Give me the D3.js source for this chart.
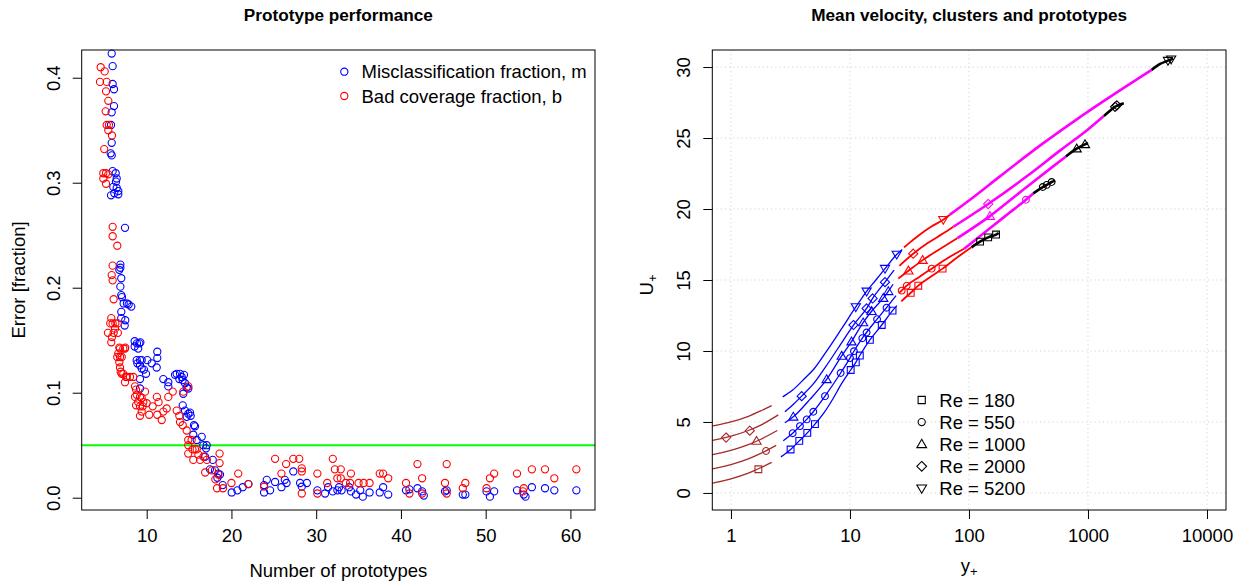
<!DOCTYPE html>
<html>
<head>
<meta charset="utf-8">
<script src="https://cdn.jsdelivr.net/npm/d3@7"></script>
<style>
  body { margin: 0; background: #fff; }
  svg { display: block; font-family: "Liberation Sans", Arial, Helvetica, sans-serif; }
</style>
</head>
<body>
<svg id="chart" width="1241" height="586"></svg>
<script>
// ---- left panel: [number of prototypes, fraction] ----
const misclassPts = [
  [5.87,0.423],[5.98,0.411],[5.98,0.394],[6.14,0.389],[6.14,0.373],[5.87,0.367],[5.79,0.355],[5.87,0.338],
  [5.75,0.328],[5.87,0.326],[5.98,0.311],[6.34,0.309],[6.46,0.304],[6.38,0.301],[6.06,0.296],[6.46,0.295],
  [5.79,0.288],[6.18,0.290],[6.65,0.289],[6.65,0.292],[7.44,0.257],
  [6.89,0.222],[6.89,0.219],[6.77,0.217],[7.0,0.209],[6.89,0.201],[7.0,0.193],[7.08,0.191],[7.28,0.185],
  [7.67,0.185],[7.87,0.184],[8.18,0.182],[7.0,0.177],[7.0,0.171],[7.47,0.169],[7.4,0.164],[8.58,0.149],
  [8.85,0.147],[9.25,0.148],[8.58,0.144],[9.0,0.142],[9.13,0.147],
  [8.82,0.131],[9.21,0.131],[9.41,0.131],[8.9,0.128],[9.21,0.126],[9.41,0.123],[9.68,0.122],[9.92,0.118],
  [10.07,0.131],[10.59,0.128],[11.25,0.139],[11.25,0.133],[11.18,0.124],[9.21,0.113],[9.21,0.104],
  [11.96,0.113],[12.55,0.110],[12.55,0.106],
  [13.34,0.117],[13.54,0.118],[13.93,0.118],[14.13,0.115],[14.4,0.117],[13.85,0.113],[14.25,0.112],
  [14.52,0.109],[14.72,0.105],[14.91,0.104],[14.32,0.099],[14.25,0.088],[14.52,0.083],[14.91,0.080],
  [15.19,0.078],[14.72,0.077],[15.11,0.081],[15.58,0.069],[15.7,0.068],[15.5,0.060],[16.49,0.058],
  [15.9,0.055],[16.68,0.050],[17.08,0.050],[17.0,0.047],[16.88,0.039],[17.79,0.036],[17.47,0.027],
  [18.06,0.026],[18.45,0.023],[18.65,0.022],[18.34,0.019],[18.97,0.012],[20.03,0.005],[20.7,0.007],
  [21.33,0.010],[22.0,0.013],[23.85,0.012],[23.85,0.005],[24.17,0.017],[24.56,0.007],[25.15,0.015],
  [27.3,0.025],[26.3,0.017],[26.5,0.014],[25.9,0.010],[28.1,0.014],[28.3,0.0105],[28.9,0.014],[30.14,0.007],
  [31.05,0.004],[31.96,0.006],[32.7,0.010],[33.0,0.007],[33.9,0.010],[34.1,0.006],[34.7,0.003],[35.5,0.001],
  [36.3,0.005],[37.5,0.005],[37.9,0.010],[38.5,0.003],[40.6,0.007],[41.0,0.008],[41.95,0.009],[42.5,0.006],
  [42.7,0.002],[45.2,0.006],[45.4,0.007],[47.3,0.003],[47.6,0.003],[50.1,0.006],[50.5,0.001],[51.0,0.006],
  [53.7,0.007],[54.5,0.003],[54.7,0.001],[55.45,0.010],[57.0,0.009],[58.1,0.007],[60.7,0.007],[31.4,0.010],
  [32.5,0.007],[35.2,0.007]
];
const coveragePts = [
  [4.57,0.410],[5.04,0.406],[4.49,0.396],[5.28,0.396],[5.2,0.387],[5.47,0.378],[5.16,0.368],[5.28,0.355],
  [5.55,0.355],[5.47,0.350],[5.9,0.345],[4.99,0.332],[4.88,0.309],[5.2,0.309],[5.47,0.308],[4.88,0.304],
  [5.2,0.299],[5.98,0.258],[5.98,0.249],[6.53,0.240],[5.98,0.221],[5.87,0.212],[5.98,0.207],
  [6.1,0.189],[5.82,0.171],[5.7,0.166],[5.98,0.166],[6.3,0.166],[6.6,0.166],[5.43,0.157],[6.26,0.161],
  [6.1,0.157],[6.6,0.157],[5.9,0.153],[5.82,0.148],[6.77,0.143],[7.47,0.143],
  [6.85,0.142],[7.24,0.142],[7.44,0.142],[6.65,0.1375],[6.53,0.134],[6.85,0.134],[7.05,0.134],[6.77,0.129],
  [6.85,0.124],[6.93,0.120],[7.05,0.118],[7.24,0.118],[7.64,0.115],[8.03,0.115],[8.42,0.115],[7.44,0.110],
  [7.56,0.115],
  [8.62,0.106],[8.74,0.103],[8.82,0.098],[8.62,0.096],[9.21,0.096],[9.0,0.091],[9.41,0.095],[9.6,0.091],
  [9.8,0.101],[10.0,0.090],[8.74,0.088],[9.21,0.087],[9.53,0.087],[9.41,0.082],[9.21,0.078],[10.3,0.079],
  [10.7,0.087],[11.2,0.096],[11.4,0.091],[11.25,0.079],[11.77,0.074],[11.96,0.082],[12.36,0.085],
  [12.55,0.096],[13.07,0.101],[13.54,0.083],[13.85,0.078],[13.93,0.072],[14.25,0.069],[14.72,0.064],
  [14.91,0.106],[14.32,0.101],
  [14.9,0.055],[14.9,0.050],[15.3,0.055],[15.4,0.046],[15.7,0.046],[15.9,0.046],[14.9,0.042],[15.5,0.036],
  [16.3,0.036],[16.1,0.041],[16.7,0.039],[17.1,0.036],[18.6,0.042],[16.9,0.024],[17.7,0.026],[18.1,0.0175],
  [18.45,0.022],[18.3,0.009],[19.0,0.009],[18.6,0.033],[20.0,0.014],[20.8,0.023],[22.0,0.013],[23.85,0.0105],
  [25.15,0.037],[25.9,0.023],
  [26.45,0.032],[27.3,0.037],[28.0,0.037],[28.3,0.028],[28.3,0.025],[30.14,0.023],[31.96,0.037],[32.2,0.027],
  [32.9,0.027],[32.5,0.0185],[32.9,0.0185],[34.1,0.023],[31.3,0.014],[33.5,0.014],[34.0,0.014],[35.0,0.014],
  [35.6,0.014],[36.3,0.014],[37.5,0.023],[37.9,0.023],[38.5,0.0185],[40.6,0.014],[41.95,0.032],[42.5,0.0185],
  [45.4,0.032],[45.2,0.014],[47.6,0.014],[47.3,0.009],[50.1,0.009],[50.5,0.0185],[51.0,0.023],[53.7,0.023],
  [54.5,0.009],[55.45,0.027],[57.0,0.027],[58.1,0.0185],[60.7,0.027],[54.4,0.006],[42.5,0.004],[41.0,0.004],
  [45.4,0.004],[30.14,0.004],[28.3,0.004]
];
const targetError = 0.05;
const xTicksLeft = [10, 20, 30, 40, 50, 60];
const yTicksLeft = [0, 0.1, 0.2, 0.3, 0.4];
const leftLegend = ['Misclassification fraction, m', 'Bad coverage fraction, b'];

// ---- right panel: one entry per Reynolds number, points are [y+, U+] ----
const reLabels = ['Re = 180', 'Re = 550', 'Re = 1000', 'Re = 2000', 'Re = 5200'];
const viscousCurves = [
  [[0.5,0.5],[0.7,0.7],[1,1.0],[1.4,1.4],[1.8,1.8],[2.2,2.15]],
  [[0.5,1.5],[0.7,1.7],[1,2.0],[1.4,2.4],[1.8,2.8],[2.4,3.35]],
  [[0.5,2.5],[0.7,2.7],[1,3.0],[1.4,3.4],[1.8,3.8],[2.45,4.4]],
  [[0.5,3.5],[0.7,3.7],[1,4.0],[1.4,4.4],[1.8,4.8],[2.5,5.5]],
  [[0.5,4.5],[0.7,4.72],[1,5.0],[1.4,5.4],[1.8,5.8],[2.2,6.15]]
];
const bufferCurves = [
  [[2.63,2.54],[3.17,3.06],[3.75,3.67],[4.38,4.23],[5.08,4.85],[6,5.6],[7.16,6.6],[8.5,7.7],[10.14,8.66],
   [11.2,9.2],[12.1,9.68],[14.7,10.78],[18.5,11.83],[22.8,12.84],[24.8,13.2]],
  [[2.75,3.68],[3.3,4.21],[3.8,4.71],[4.33,5.18],[4.92,5.72],[6.17,6.82],[8.35,8.45],[10.0,9.5],[10.8,9.98],
   [12.7,10.9],[14.5,11.55],[16.9,12.24],[20.6,13.12],[24.4,13.9]],
  [[2.84,4.94],[3.34,5.36],[4.61,6.59],[6.37,8.0],[8.52,9.65],[10.3,10.66],[12.9,12.0],[15.2,12.8],
   [19.05,13.72],[21.0,14.2],[23.0,14.7]],
  [[2.84,5.72],[3.3,6.2],[3.93,6.82],[5,7.75],[6.2,8.85],[8.4,10.5],[10.7,11.83],[13.8,13.0],[15.5,13.7],
   [19.7,14.85],[23.5,15.7]],
  [[2.72,6.77],[3.3,7.25],[4.2,8.1],[5,8.75],[6.2,9.85],[8.4,11.5],[11.2,13.1],[13.8,14.2],[16.5,15.0],
   [19.7,15.8],[24.7,16.8],[27.5,17.15]]
];
const logCurves = [
  [[27,13.5],[32.4,14.1],[37.5,14.6],[48,15.25],[60,15.8],[80,16.6],[105,17.3]],
  [[26,14.1],[27.2,14.25],[30,14.6],[38,15.2],[48.6,15.8],[65,16.5],[91,17.2]],
  [[25.5,15.1],[31,15.65],[40.8,16.4],[55,17.1],[80,17.95]],
  [[26,16.0],[34,16.85],[45,17.6],[60,18.25],[74,18.75]],
  [[28.5,17.3],[32,17.65],[38.7,18.2],[48,18.75],[60.8,19.25],[69,19.6]]
];
const outerCurves = [
  [],
  [[91,17.2],[150,18.65],[220,19.75],[301,20.65],[347,21.1]],
  [[80,17.95],[150,19.5],[300,21.5],[500,22.95],[653,23.7]],
  [[74,18.75],[145,20.35],[300,22.25],[600,24.2],[1000,25.6],[1362,26.55]],
  [[69,19.6],[100,20.6],[182,22.3],[400,24.5],[800,26.3],[1600,28.0],[3430,29.8]]
];
const coreCurves = [
  [[105,17.3],[124,17.7],[145,18.0],[169,18.2],[178,18.3]],
  [[347,21.1],[417,21.55],[450,21.7],[495,21.9],[530,22.0]],
  [[653,23.7],[804,24.25],[944,24.55],[1000,24.65]],
  [[1362,26.55],[1550,26.95],[1690,27.2],[2000,27.45]],
  [[3430,29.8],[4000,30.2],[4700,30.45],[5200,30.6]]
];
const viscousProtos = [[[1.70,1.67]], [[1.97,2.96]], [[1.64,3.66]], [[0.91,3.9],[1.44,4.39]], []];
const bufferProtos = [
  [[3.17,3.06],[3.75,3.67],[4.38,4.23],[5.08,4.85],[10.14,8.66],[11.2,9.2],[12.1,9.68],[14.7,10.78],[18.5,11.83],[22.8,12.84]],
  [[3.3,4.21],[3.8,4.71],[4.33,5.18],[4.92,5.72],[6.17,6.82],[8.35,8.45],[10.0,9.5],[10.8,9.98],[12.7,10.9],[13.8,11.3],[16.9,12.24],[20.3,13.05]],
  [[3.34,5.36],[6.37,8.0],[8.52,9.65],[10.3,10.66],[12.9,12.0],[15.2,12.8],[19.05,13.72],[21.0,14.2]],
  [[3.93,6.82],[10.7,11.83],[13.8,13.0],[15.5,13.7],[19.7,14.85]],
  [[11.2,13.1],[13.8,14.2],[19.7,15.8],[24.7,16.8]]
];
const logProtos = [
  [[32.4,14.1],[37.5,14.6],[60,15.8]],
  [[27.2,14.25],[30,14.6],[48.6,15.8]],
  [[31,15.65],[40.8,16.4]],
  [[34,16.85]],
  [[60.8,19.25]]
];
const outerProtos = [[], [[301,20.65]], [[150,19.5]], [[145,20.35]], []];
const coreProtos = [
  [[124,17.7],[145,18.0],[169,18.2]],
  [[417,21.55],[450,21.7],[495,21.9]],
  [[804,24.25],[944,24.55]],
  [[1690,27.2],[1750,27.3]],
  [[4700,30.45],[5000,30.55]]
];
const xTicksRight = [1, 10, 100, 1000, 10000];
const yTicksRight = [0, 5, 10, 15, 20, 25, 30];

// ---- drawing ----
const svg = d3.select('#chart');
const FS = 18.5;

// R-like symbols, size = radius in px
const shapes = [
  { draw(c, r) { c.rect(-r, -r, 2 * r, 2 * r); } },
  { draw(c, r) { c.moveTo(r, 0); c.arc(0, 0, r, 0, 2 * Math.PI); } },
  { draw(c, r) { c.moveTo(0, -1.35 * r); c.lineTo(1.35 * r, 0.95 * r); c.lineTo(-1.35 * r, 0.95 * r); c.closePath(); } },
  { draw(c, r) { c.moveTo(0, -1.35 * r); c.lineTo(1.35 * r, 0); c.lineTo(0, 1.35 * r); c.lineTo(-1.35 * r, 0); c.closePath(); } },
  { draw(c, r) { c.moveTo(0, 1.35 * r); c.lineTo(1.35 * r, -0.95 * r); c.lineTo(-1.35 * r, -0.95 * r); c.closePath(); } }
];
const symbolPath = (i, r) => d3.symbol().type(shapes[i]).size(r)();

function styleAxisText(g) {
  g.selectAll('.tick text').attr('font-size', FS).attr('fill', '#000')
    .attr('font-family', '"Liberation Sans", Arial, Helvetica, sans-serif');
  g.selectAll('.tick line').attr('stroke', '#000');
}

// ===== left panel =====
const L = { x0: 81.7, x1: 595, y0: 50, y1: 510 };
const xL = d3.scaleLinear().domain([2.33, 62.9]).range([L.x0, L.x1]);
const yL = d3.scaleLinear().domain([-0.0117, 0.4264]).range([L.y1, L.y0]);

const gxL = svg.append('g').attr('transform', `translate(0,${L.y1})`)
  .call(d3.axisBottom(xL).tickValues(xTicksLeft).tickSize(9).tickPadding(10).tickFormat(d3.format('d')));
gxL.select('.domain').remove();
styleAxisText(gxL);

const gyL = svg.append('g').attr('transform', `translate(${L.x0},0)`)
  .call(d3.axisLeft(yL).tickValues(yTicksLeft).tickSize(9).tickFormat(d3.format('.1f')));
gyL.select('.domain').remove();
styleAxisText(gyL);
gyL.selectAll('.tick text').attr('transform', 'rotate(-90)').attr('x', 0).attr('y', -22)
  .attr('dy', 0).attr('text-anchor', 'middle');

svg.append('line')
  .attr('x1', L.x0).attr('x2', L.x1)
  .attr('y1', yL(targetError)).attr('y2', yL(targetError))
  .attr('stroke', '#00ff00').attr('stroke-width', 2);

const ptsL = svg.append('g').attr('fill', 'none').attr('stroke-width', 1.1);
ptsL.selectAll('circle.m').data(misclassPts).join('circle').attr('class', 'm')
  .attr('cx', d => xL(d[0])).attr('cy', d => yL(d[1])).attr('r', 3.6).attr('stroke', '#0000ff');
ptsL.selectAll('circle.b').data(coveragePts).join('circle').attr('class', 'b')
  .attr('cx', d => xL(d[0])).attr('cy', d => yL(d[1])).attr('r', 3.6).attr('stroke', '#ff0000');

svg.append('rect').attr('x', L.x0).attr('y', L.y0)
  .attr('width', L.x1 - L.x0).attr('height', L.y1 - L.y0)
  .attr('fill', 'none').attr('stroke', '#000').attr('stroke-width', 1);

const legL = svg.append('g');
leftLegend.forEach((t, i) => {
  const cy = 71.7 + i * 24.3;
  legL.append('circle').attr('cx', 344.3).attr('cy', cy).attr('r', 3.6)
    .attr('fill', 'none').attr('stroke', i === 0 ? '#0000ff' : '#ff0000').attr('stroke-width', 1.1);
  legL.append('text').attr('x', 361.5).attr('y', cy + 6.6).attr('font-size', FS).text(t);
});

svg.append('text').attr('x', (L.x0 + L.x1) / 2).attr('y', 20.5).attr('text-anchor', 'middle')
  .attr('font-size', 17.2).attr('font-weight', 'bold').text('Prototype performance');
svg.append('text').attr('x', (L.x0 + L.x1) / 2).attr('y', 577).attr('text-anchor', 'middle')
  .attr('font-size', FS).text('Number of prototypes');
svg.append('text').attr('transform', `translate(25,${(L.y0 + L.y1) / 2}) rotate(-90)`)
  .attr('text-anchor', 'middle').attr('font-size', FS).text('Error [fraction]');

// ===== right panel =====
const R = { x0: 712.3, x1: 1226, y0: 50, y1: 510 };
const xR = d3.scaleLog().domain([0.697, 14450]).range([R.x0, R.x1]);
const yR = d3.scaleLinear().domain([-1.2, 31.2]).range([R.y1, R.y0]);

const grid = svg.append('g').attr('stroke', '#d3d3d3').attr('stroke-dasharray', '1.2,3').attr('stroke-width', 1);
grid.selectAll('line.v').data(xTicksRight).join('line').attr('class', 'v')
  .attr('x1', d => xR(d)).attr('x2', d => xR(d)).attr('y1', R.y0).attr('y2', R.y1);
grid.selectAll('line.h').data(yTicksRight).join('line').attr('class', 'h')
  .attr('x1', R.x0).attr('x2', R.x1).attr('y1', d => yR(d)).attr('y2', d => yR(d));

const gxR = svg.append('g').attr('transform', `translate(0,${R.y1})`)
  .call(d3.axisBottom(xR).tickValues(xTicksRight).tickSize(9).tickPadding(10).tickFormat(d3.format('d')));
gxR.select('.domain').remove();
styleAxisText(gxR);

const gyR = svg.append('g').attr('transform', `translate(${R.x0},0)`)
  .call(d3.axisLeft(yR).tickValues(yTicksRight).tickSize(9).tickFormat(d3.format('d')));
gyR.select('.domain').remove();
styleAxisText(gyR);
gyR.selectAll('.tick text').attr('transform', 'rotate(-90)').attr('x', 0).attr('y', -22.5)
  .attr('dy', 0).attr('text-anchor', 'middle');

svg.append('clipPath').attr('id', 'clipR').append('rect')
  .attr('x', R.x0).attr('y', R.y0).attr('width', R.x1 - R.x0).attr('height', R.y1 - R.y0);

const line = d3.line().x(d => xR(d[0])).y(d => yR(d[1])).curve(d3.curveMonotoneX);
const layers = [
  { curves: viscousCurves, protos: viscousProtos, color: '#a52a2a', width: 1.3 },
  { curves: bufferCurves, protos: bufferProtos, color: '#0000ff', width: 1.3 },
  { curves: logCurves, protos: logProtos, color: '#ff0000', width: 1.8 },
  { curves: outerCurves, protos: outerProtos, color: '#ff00ff', width: 2.6 },
  { curves: coreCurves, protos: coreProtos, color: '#000000', width: 2.6 }
];
const plotR = svg.append('g').attr('clip-path', 'url(#clipR)');
layers.forEach(layer => {
  layer.curves.forEach(c => {
    if (!c.length) return;
    plotR.append('path').attr('d', line(c)).attr('fill', 'none')
      .attr('stroke', layer.color).attr('stroke-width', layer.width);
  });
});
layers.forEach(layer => {
  layer.protos.forEach((list, i) => {
    plotR.selectAll(null).data(list).join('path')
      .attr('transform', d => `translate(${xR(d[0])},${yR(d[1])})`)
      .attr('d', symbolPath(i, 3.4)).attr('fill', 'none')
      .attr('stroke', layer.color).attr('stroke-width', 1.1);
  });
});

svg.append('rect').attr('x', R.x0).attr('y', R.y0)
  .attr('width', R.x1 - R.x0).attr('height', R.y1 - R.y0)
  .attr('fill', 'none').attr('stroke', '#000').attr('stroke-width', 1);

const legR = svg.append('g');
reLabels.forEach((t, i) => {
  const cy = 400 + i * 22.1;
  legR.append('path').attr('transform', `translate(921.7,${cy})`).attr('d', symbolPath(i, 3.6))
    .attr('fill', 'none').attr('stroke', '#000').attr('stroke-width', 1.1);
  legR.append('text').attr('x', 939.3).attr('y', cy + 6.6).attr('font-size', FS).text(t);
});

svg.append('text').attr('x', (R.x0 + R.x1) / 2).attr('y', 20.5).attr('text-anchor', 'middle')
  .attr('font-size', 17.2).attr('font-weight', 'bold').text('Mean velocity, clusters and prototypes');

const xlab = svg.append('text').attr('x', (R.x0 + R.x1) / 2).attr('y', 571.5)
  .attr('text-anchor', 'middle').attr('font-size', FS);
xlab.append('tspan').text('y');
xlab.append('tspan').attr('font-size', 13).attr('dy', 4).text('+');

const ylab = svg.append('text').attr('transform', `translate(653,${(R.y0 + R.y1) / 2 + 5}) rotate(-90)`)
  .attr('text-anchor', 'middle').attr('font-size', FS);
ylab.append('tspan').text('U');
ylab.append('tspan').attr('font-size', 13).attr('dy', 4).text('+');
</script>
</body>
</html>
